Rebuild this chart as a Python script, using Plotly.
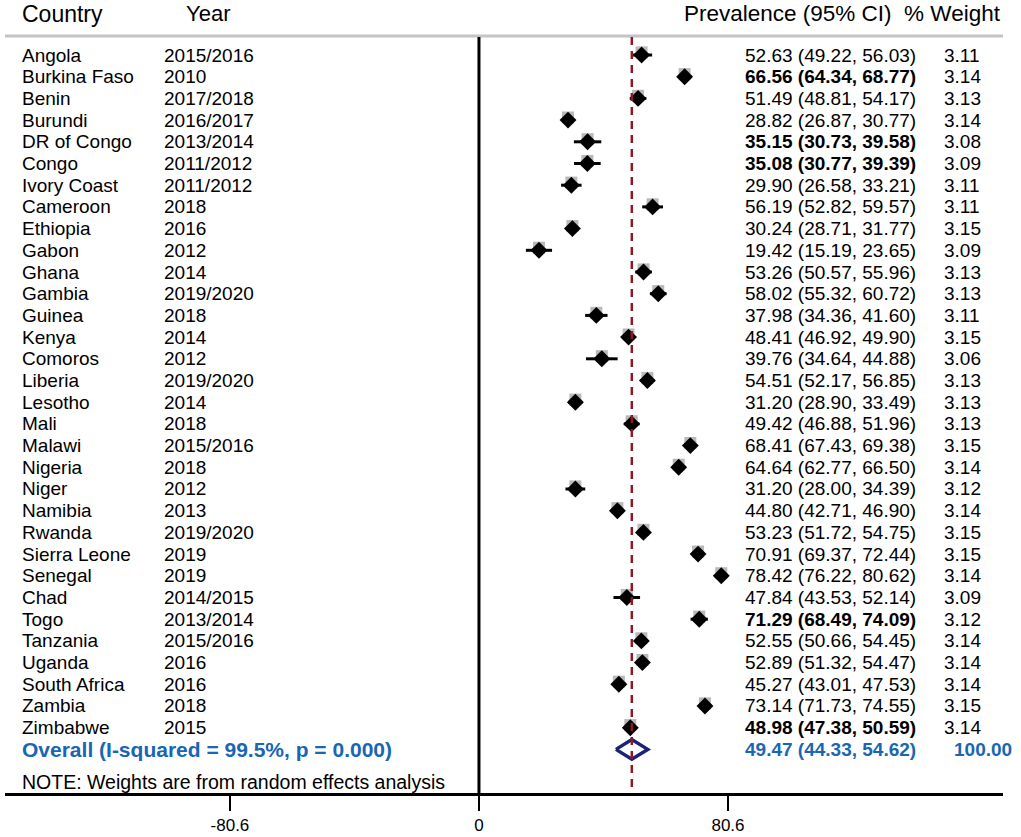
# Forest plot: prevalence by country (random effects meta-analysis)
import plotly.graph_objects as go

# Study data
countries = ["Angola", "Burkina Faso", "Benin", "Burundi", "DR of Congo", "Congo",
             "Ivory Coast", "Cameroon", "Ethiopia", "Gabon", "Ghana", "Gambia",
             "Guinea", "Kenya", "Comoros", "Liberia", "Lesotho", "Mali", "Malawi",
             "Nigeria", "Niger", "Namibia", "Rwanda", "Sierra Leone", "Senegal",
             "Chad", "Togo", "Tanzania", "Uganda", "South Africa", "Zambia", "Zimbabwe"]
years = ["2015/2016", "2010", "2017/2018", "2016/2017", "2013/2014", "2011/2012",
         "2011/2012", "2018", "2016", "2012", "2014", "2019/2020", "2018", "2014",
         "2012", "2019/2020", "2014", "2018", "2015/2016", "2018", "2012", "2013",
         "2019/2020", "2019", "2019", "2014/2015", "2013/2014", "2015/2016", "2016",
         "2016", "2018", "2015"]
prev = [52.63, 66.56, 51.49, 28.82, 35.15, 35.08, 29.90, 56.19, 30.24, 19.42, 53.26,
        58.02, 37.98, 48.41, 39.76, 54.51, 31.20, 49.42, 68.41, 64.64, 31.20, 44.80,
        53.23, 70.91, 78.42, 47.84, 71.29, 52.55, 52.89, 45.27, 73.14, 48.98]
ci_low = [49.22, 64.34, 48.81, 26.87, 30.73, 30.77, 26.58, 52.82, 28.71, 15.19, 50.57,
          55.32, 34.36, 46.92, 34.64, 52.17, 28.90, 46.88, 67.43, 62.77, 28.00, 42.71,
          51.72, 69.37, 76.22, 43.53, 68.49, 50.66, 51.32, 43.01, 71.73, 47.38]
ci_high = [56.03, 68.77, 54.17, 30.77, 39.58, 39.39, 33.21, 59.57, 31.77, 23.65, 55.96,
           60.72, 41.60, 49.90, 44.88, 56.85, 33.49, 51.96, 69.38, 66.50, 34.39, 46.90,
           54.75, 72.44, 80.62, 52.14, 74.09, 54.45, 54.47, 47.53, 74.55, 50.59]
weights = ["3.11", "3.14", "3.13", "3.14", "3.08", "3.09", "3.11", "3.11", "3.15", "3.09",
           "3.13", "3.13", "3.11", "3.15", "3.06", "3.13", "3.13", "3.13", "3.15", "3.14",
           "3.12", "3.14", "3.15", "3.15", "3.14", "3.09", "3.12", "3.14", "3.14", "3.14",
           "3.15", "3.14"]
bold_rows = ["Burkina Faso", "DR of Congo", "Congo", "Togo", "Zimbabwe"]

# Pooled estimate
overall_est = 49.47
overall_low = 44.33
overall_high = 54.62
overall_label = "Overall (I-squared = 99.5%, p = 0.000)"
note = "NOTE: Weights are from random effects analysis"
tick_vals = [-80.6, 0, 80.6]

FONT = "Arial, Liberation Sans, sans-serif"
BLUE = "#1866b4"

rows = list(range(len(countries)))
overall_row = len(countries)
note_row = overall_row + 1.5

fig = go.Figure()

# weight boxes
fig.add_trace(go.Scatter(
    x=prev, y=[r - 0.12 for r in rows], mode="markers",
    marker=dict(symbol="square", size=12, color="#b9b9b9"),
    hoverinfo="skip", showlegend=False))

# point estimates + CIs
fig.add_trace(go.Scatter(
    x=prev, y=rows, mode="markers",
    marker=dict(symbol="diamond", size=13, color="black"),
    error_x=dict(type="data", symmetric=False,
                 array=[h - p for h, p in zip(ci_high, prev)],
                 arrayminus=[p - l for p, l in zip(prev, ci_low)],
                 thickness=3, width=0, color="black"),
    showlegend=False))

# overall diamond
fig.add_trace(go.Scatter(
    x=[overall_low, overall_est, overall_high, overall_est, overall_low],
    y=[overall_row, overall_row - 0.45, overall_row, overall_row + 0.45, overall_row],
    mode="lines", line=dict(color="#1b2278", width=3.5),
    hoverinfo="skip", showlegend=False))

# reference lines
fig.add_shape(type="line", xref="paper", x0=0, x1=1, y0=-0.88, y1=-0.88,
              line=dict(color="#c4c4c4", width=3))
fig.add_shape(type="line", x0=0, x1=0, y0=-0.83, y1=34.2,
              line=dict(color="black", width=3))
fig.add_shape(type="line", x0=overall_est, x1=overall_est, y0=-0.83, y1=34.2,
              line=dict(color="#8b1a26", width=2.5, dash="8px,6px"))

def label(x, y, text, size=19, color="black", anchor="left"):
    fig.add_annotation(x=x, y=y, text=text, showarrow=False, xanchor=anchor,
                       yanchor="middle", font=dict(family=FONT, size=size, color=color))

# header
label(-148.5, -1.9, "Country", size=23)
label(-95.5, -1.9, "Year", size=22)
label(65.7, -1.9, "Prevalence (95% CI)  % Weight", size=22.5)

# study rows
for r, c, yr, p, lo, hi, w in zip(rows, countries, years, prev, ci_low, ci_high, weights):
    txt = f"{p:.2f} ({lo:.2f}, {hi:.2f})"
    if c in bold_rows:
        txt = f"<b>{txt}</b>"
    label(-148.5, r, c)
    label(-102.5, r, yr)
    label(85.4, r, txt)
    label(149.8, r, w)

# overall row + note
label(-148.5, overall_row, f"<b>{overall_label}</b>", size=21, color=BLUE)
label(85.4, overall_row, f"<b>{overall_est:.2f} ({overall_low:.2f}, {overall_high:.2f})</b>", color=BLUE)
label(153.0, overall_row, "<b>100.00</b>", color=BLUE)
label(-148.5, note_row, note, size=19.5)

fig.update_layout(
    width=1021, height=837,
    margin=dict(l=5, r=18, t=0, b=44),
    plot_bgcolor="white", paper_bgcolor="white",
    font=dict(family=FONT, color="black"),
    xaxis=dict(range=[-153.4, 169.6], tickvals=tick_vals, ticktext=["-80.6", "0", "80.6"],
               showgrid=False, zeroline=False, showline=True, linecolor="black",
               linewidth=3, ticks="outside", ticklen=15, tickwidth=2, tickcolor="black",
               tickfont=dict(size=17, family=FONT)),
    yaxis=dict(range=[34.01, -2.535], visible=False, showgrid=False, zeroline=False),
)

# drop the default page margin so the figure sits at the window's corner
fig.write_html("out.html", config={"displayModeBar": False},
               post_script="document.body.style.margin='0';")
